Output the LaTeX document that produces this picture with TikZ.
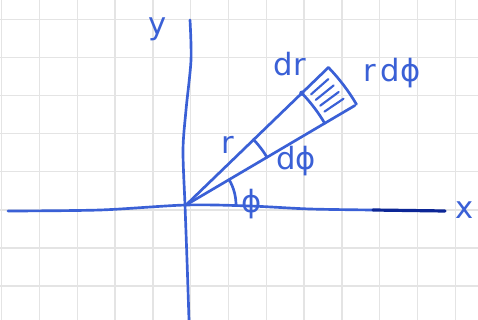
\documentclass[tikz,border=0pt]{standalone}
\usepackage{fontspec}
\setmainfont{DejaVu Sans}
\usetikzlibrary{calc}
\definecolor{pen}{RGB}{58,96,214}
\definecolor{darkpen}{RGB}{12,38,150}
\definecolor{gridc}{RGB}{228,228,228}
\tikzset{
  ink/.style={draw=pen, line width=2pt, line cap=round, line join=round},
  lbl/.style={text=pen, font=\fontsize{23}{23}\selectfont, inner sep=0pt, anchor=base},
}
\begin{document}
\begin{tikzpicture}[x=0.75pt,y=-0.75pt]
\useasboundingbox (0,0) rectangle (478,320);
\fill[white] (0,0) rectangle (478,320);
% grid paper
\foreach \k in {0,...,12} {\draw[gridc, line width=1.1pt] ({1.7+37.8*\k},0) -- ({1.7+37.8*\k},320);}
\foreach \k in {0,...,8} {\draw[gridc, line width=1.1pt] (0,{19.3+38.1*\k}) -- (478,{19.3+38.1*\k});}
% origin and element points
\coordinate (O) at (186,205);
\coordinate (A1) at ($(O)+(-44:161)$);
\coordinate (A2) at ($(O)+(-44:198)$);
\coordinate (B1) at ($(O)+(-30.5:162)$);
\coordinate (B2) at ($(O)+(-30.5:196)$);
% axes
\coordinate (ytop) at (190,20);
\coordinate (ybot) at (189,320);
\coordinate (xleft) at (8,211);
\coordinate (xmid) at (373,210);
\coordinate (xright) at (445,211);
\draw[ink] plot[smooth] coordinates {(ytop) (191,60) (186,110) (183,150) (185,205) (187,260) (ybot)};
\draw[ink] plot[smooth] coordinates {(xleft) (100,210) (O) (250,206) (310,209) (xmid)};
\draw[draw=darkpen, line width=2.4pt, line cap=round] (xmid) -- (xright);
% rays
\draw[ink] (O) -- (A2);
\draw[ink] (O) -- (B2);
% element
\draw[ink] (A2) arc[start angle=-44, end angle=-30.5, radius=197];
\draw[ink] (A1) arc[start angle=-44, end angle=-30.5, radius=161];
\fill[pen] (A1) circle (2.6);
\foreach \a in {-41.5,-39,-36.5,-34} {
  \draw[ink, line width=1.6pt] ($(O)+(\a:167)$) -- ($(O)+(\a:190)$);
}
% angle marks
\draw[ink] ($(O)+(-44:94)$) arc[start angle=-44, end angle=-30.5, radius=94];
\draw[ink] ($(O)+(0:50)$) arc[start angle=0, end angle=-30.5, radius=50];
% labels
\node[lbl] (ly) at (158,35) {y};
\node[lbl] (lx) at (465,219) {x};
\node[lbl] (ldr) at (290,76) {dr};
\node[lbl] (lrdphi) at (392,82) {r\,dϕ};
\node[lbl] (lr) at (228,154) {r};
\node[lbl] (ldphi) at (296,170) {dϕ};
\node[lbl] (lphi) at (252,213) {ϕ};
\end{tikzpicture}
\end{document}
